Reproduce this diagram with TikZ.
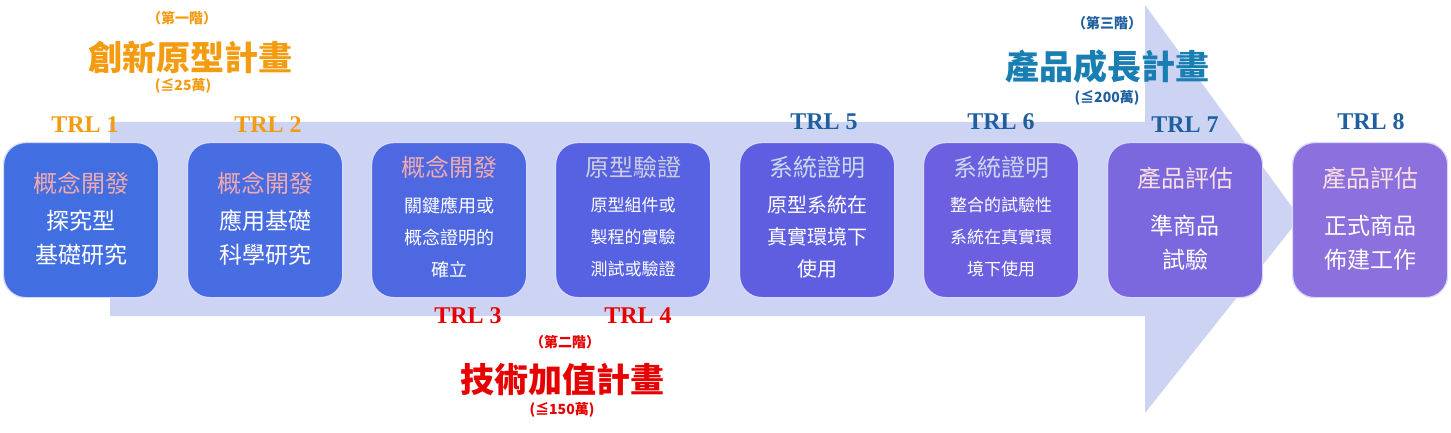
\documentclass[tikz,border=0pt]{standalone}
\usepackage{fontspec}
\setmainfont{Liberation Serif}
\newfontfamily\cjk{Noto Sans CJK TC}
\definecolor{arrowc}{RGB}{205,212,243}
\definecolor{orng}{RGB}{243,156,18}
\definecolor{trlred}{RGB}{230,0,0}
\definecolor{trlblue}{RGB}{31,95,160}
\definecolor{ttlpink}{RGB}{240,170,175}
\definecolor{ttlgray}{RGB}{205,205,225}
\definecolor{ttlblue}{RGB}{200,215,235}
\definecolor{ttlrose}{RGB}{250,225,225}
\begin{document}
\begin{tikzpicture}[x=1pt,y=-1pt,
  stage/.style={draw=white!85!blue,line width=1.2pt,rounded corners=22pt,minimum width=155pt,minimum height=155pt,anchor=north west},
  trl/.style={font=\bfseries\fontsize{24}{24}\selectfont},
  ttl/.style={font=\cjk\fontsize{24}{26}\selectfont},
  body/.style={font=\cjk\fontsize{23}{34}\selectfont,text=white,align=center},
  big/.style={font=\cjk\bfseries\fontsize{34}{34}\selectfont},
  small/.style={font=\cjk\bfseries\fontsize{14}{14}\selectfont}]
\useasboundingbox (0,0) rectangle (1451,433);
\fill[arrowc] (110,122) -- (1145,122) -- (1145,5) -- (1300,218) -- (1145,413) -- (1145,316) -- (110,316) -- cycle;
\foreach \i/\x/\c in {1/3/{65,110,225},2/187/{72,108,226},3/371/{78,104,226},4/555/{86,98,226},5/739/{96,94,224},6/923/{108,96,224},7/1107/{124,104,222},8/1292/{140,112,222}}{
  \definecolor{bc\i}{RGB}{\c}
  \node[stage,fill=bc\i] (s\i) at (\x,142) {};
}
\node[ttl,text=ttlpink] (t1) at ([yshift=-41]s1.north) {概念開發};
\node[body] (b1) at ([yshift=-96]s1.north) {探究型\\基礎研究};
\node[ttl,text=ttlpink] (t2) at ([yshift=-41]s2.north) {概念開發};
\node[body] (b2) at ([yshift=-96]s2.north) {應用基礎\\科學研究};
\node[ttl,text=ttlpink] (t3) at ([yshift=-25]s3.north) {概念開發};
\node[body,font=\cjk\fontsize{18}{32}\selectfont] (b3) at ([yshift=-95]s3.north) {關鍵應用或\\概念證明的\\確立};
\node[ttl,text=ttlgray] (t4) at ([yshift=-25]s4.north) {原型驗證};
\node[body,font=\cjk\fontsize{17}{32}\selectfont] (b4) at ([yshift=-95]s4.north) {原型組件或\\製程的實驗\\測試或驗證};
\node[ttl,text=ttlblue] (t5) at ([yshift=-25]s5.north) {系統證明};
\node[body,font=\cjk\fontsize{20}{32}\selectfont] (b5) at ([yshift=-95]s5.north) {原型系統在\\真實環境下\\使用};
\node[ttl,text=ttlblue] (t6) at ([yshift=-25]s6.north) {系統證明};
\node[body,font=\cjk\fontsize{17}{32}\selectfont] (b6) at ([yshift=-95]s6.north) {整合的試驗性\\系統在真實環\\境下使用};
\node[ttl,text=ttlrose] (t7) at ([yshift=-36]s7.north) {產品評估};
\node[body] (b7) at ([yshift=-101]s7.north) {準商品\\試驗};
\node[ttl,text=ttlrose] (t8) at ([yshift=-36]s8.north) {產品評估};
\node[body] (b8) at ([yshift=-101]s8.north) {正式商品\\佈建工作};
\node[trl,text=orng] (r1) at (85,125) {TRL 1};
\node[trl,text=orng] (r2) at (268,125) {TRL 2};
\node[trl,text=trlred] (r3) at (468,316) {TRL 3};
\node[trl,text=trlred] (r4) at (638,316) {TRL 4};
\node[trl,text=trlblue] (r5) at (824,122) {TRL 5};
\node[trl,text=trlblue] (r6) at (1001,122) {TRL 6};
\node[trl,text=trlblue] (r7) at (1185,125) {TRL 7};
\node[trl,text=trlblue] (r8) at (1371,122) {TRL 8};
\node[small,text=orng] (p1a) at (182,18) {（第一階）};
\node[big,text=orng] (p1) at (190,57) {創新原型計畫};
\node[small,text=orng] (p1b) at (183,86) {(≦25萬)};
\node[small,text=trlred] (p2a) at (565,342) {（第二階）};
\node[big,text=trlred] (p2) at (562,380) {技術加值計畫};
\node[small,text=trlred] (p2b) at (562,410) {(≦150萬)};
\node[small,text=trlblue] (p3a) at (1107,23) {（第三階）};
\node[big,text=trlblue!80!cyan] (p3) at (1107,67) {產品成長計畫};
\node[small,text=trlblue] (p3b) at (1107,98) {(≦200萬)};
\end{tikzpicture}
\end{document}
